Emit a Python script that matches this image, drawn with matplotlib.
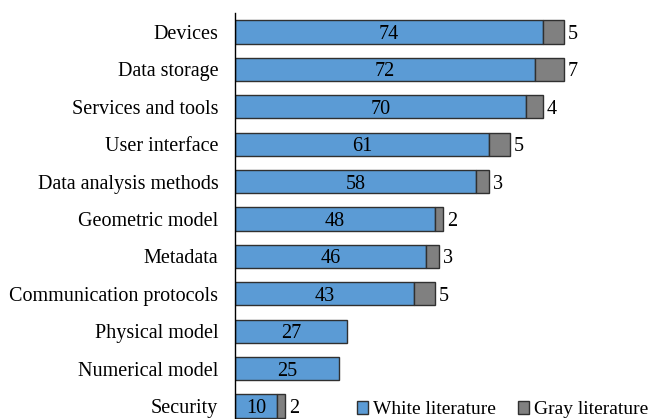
import matplotlib
matplotlib.use('Agg')
import matplotlib.pyplot as plt

plt.rcParams['font.family'] = ['Liberation Serif', 'DejaVu Serif']

# Data (top to bottom)
categories = ['Devices', 'Data storage', 'Services and tools', 'User interface',
              'Data analysis methods', 'Geometric model', 'Metadata',
              'Communication protocols', 'Physical model', 'Numerical model', 'Security']
white_lit = [74, 72, 70, 61, 58, 48, 46, 43, 27, 25, 10]
gray_lit = [5, 7, 4, 5, 3, 2, 3, 5, 0, 0, 2]

blue = '#5B9BD5'
gray = '#808080'
edge = '#303030'
fs = 14.5

fig = plt.figure(figsize=(6.53, 4.19), dpi=100)
# axes: left edge at x=235px, top at y=13px, running off the bottom of the figure
ax = fig.add_axes([235 / 653, 0.0, 416 / 653, (419 - 13) / 419])

pos = list(range(len(categories)))
h = 0.62
bw = ax.barh(pos, white_lit, height=h, color=blue, edgecolor=edge, linewidth=1.0,
             label='White literature')
gray_pos = [p for p, g in zip(pos, gray_lit) if g > 0]
gray_vals = [g for g in gray_lit if g > 0]
gray_left = [w for w, g in zip(white_lit, gray_lit) if g > 0]
bg = ax.barh(gray_pos, gray_vals, left=gray_left, height=h, color=gray,
             edgecolor=edge, linewidth=1.0, label='Gray literature')

for p, w, g in zip(pos, white_lit, gray_lit):
    ax.text(w / 2, p, str(w), ha='center', va='center_baseline', fontsize=fs)
    if g > 0:
        ax.text(w + g + 1.0, p, str(g), ha='left', va='center_baseline', fontsize=fs)

ax.set_xlim(0, 100)
ax.set_ylim(10.35, -0.508)
ax.set_yticks(pos)
ax.set_yticklabels(categories, fontsize=fs)
ax.tick_params(axis='y', length=0, pad=12)
ax.set_xticks([])
for s in ['top', 'right', 'bottom']:
    ax.spines[s].set_visible(False)
ax.spines['left'].set_linewidth(1.0)
ax.spines['left'].set_color('black')

fig.legend(handles=[bw, bg], loc='center left', bbox_to_anchor=(347 / 653, 0.022),
           ncol=2, frameon=False, fontsize=14, handlelength=0.6, handleheight=0.6,
           handletextpad=0.25, columnspacing=1.1, borderpad=0)

fig.savefig('out.png', dpi=100)
